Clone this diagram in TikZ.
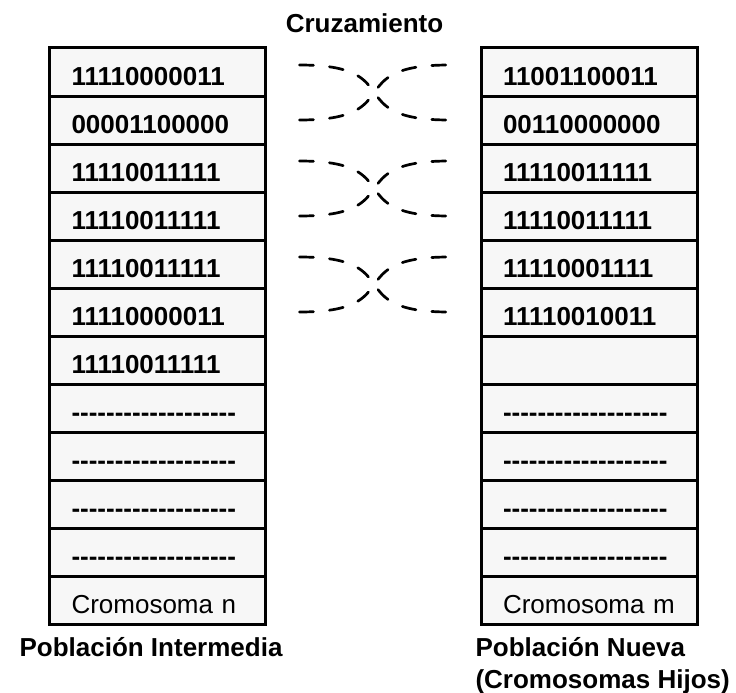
\documentclass[tikz,border=0pt]{standalone}
\usepackage{fontspec}
\setmainfont{Liberation Sans}
\usetikzlibrary{positioning}
\newcommand\grande{\fontsize{26}{32}\selectfont}
\newcommand\rayas{\foreach\k in {1,...,19}{-\kern0pt}}

\begin{document}
\begin{tikzpicture}[x=1pt, y=-1pt, font=\grande,
celda/.style={draw=black, line width=3pt, fill=gray!6, outer sep=0pt, minimum width=216pt, minimum height=48pt, text width=172pt, inner xsep=22pt, inner ysep=0pt, align=left, text height=26pt, text depth=0pt, font=\grande\bfseries},
cruce/.style={line width=2.7pt, line cap=round, dash pattern=on 14pt off 16pt},
titulo/.style={font=\grande\bfseries}]
\useasboundingbox (0,0) rectangle (736,693);
\foreach \txt [count=\n] in {11110000011,00001100000,11110011111,11110011111,11110011111,11110000011,11110011111,\rayas,\rayas,\rayas,\rayas}
  \node[celda] (i\n) at (157.5,24+48*\n) {\txt};
\node[celda, font=\grande, below=0pt of i11] (i12) {Cromosoma n};
\foreach \txt [count=\n] in {11001100011,00110000000,11110011111,11110011111,11110001111,11110010011,{},\rayas,\rayas,\rayas,\rayas}
  \node[celda] (n\n) at (589,24+48*\n) {\txt};
\node[celda, font=\grande, below=0pt of n11] (n12) {Cromosoma m};
\foreach \a/\b in {1/2,3/4,5/6} {
  \draw[cruce] ([shift={(34pt,7pt)}]i\a.east) .. controls +(110,0) and +(-110,0) .. ([xshift=-32pt]n\b.west);
  \draw[cruce] ([xshift=34pt]i\b.east) .. controls +(110,0) and +(-110,0) .. ([shift={(-32pt,7pt)}]n\a.west);
}
\node[titulo] (cruz) at (364.5,23) {Cruzamiento};
\node[titulo, anchor=base west] (pobi) at (16,656) {Población Intermedia};
\node[titulo, anchor=base west, align=left] (pobn) at (472,688) {Población Nueva\\(Cromosomas Hijos)};
\end{tikzpicture}
\end{document}
